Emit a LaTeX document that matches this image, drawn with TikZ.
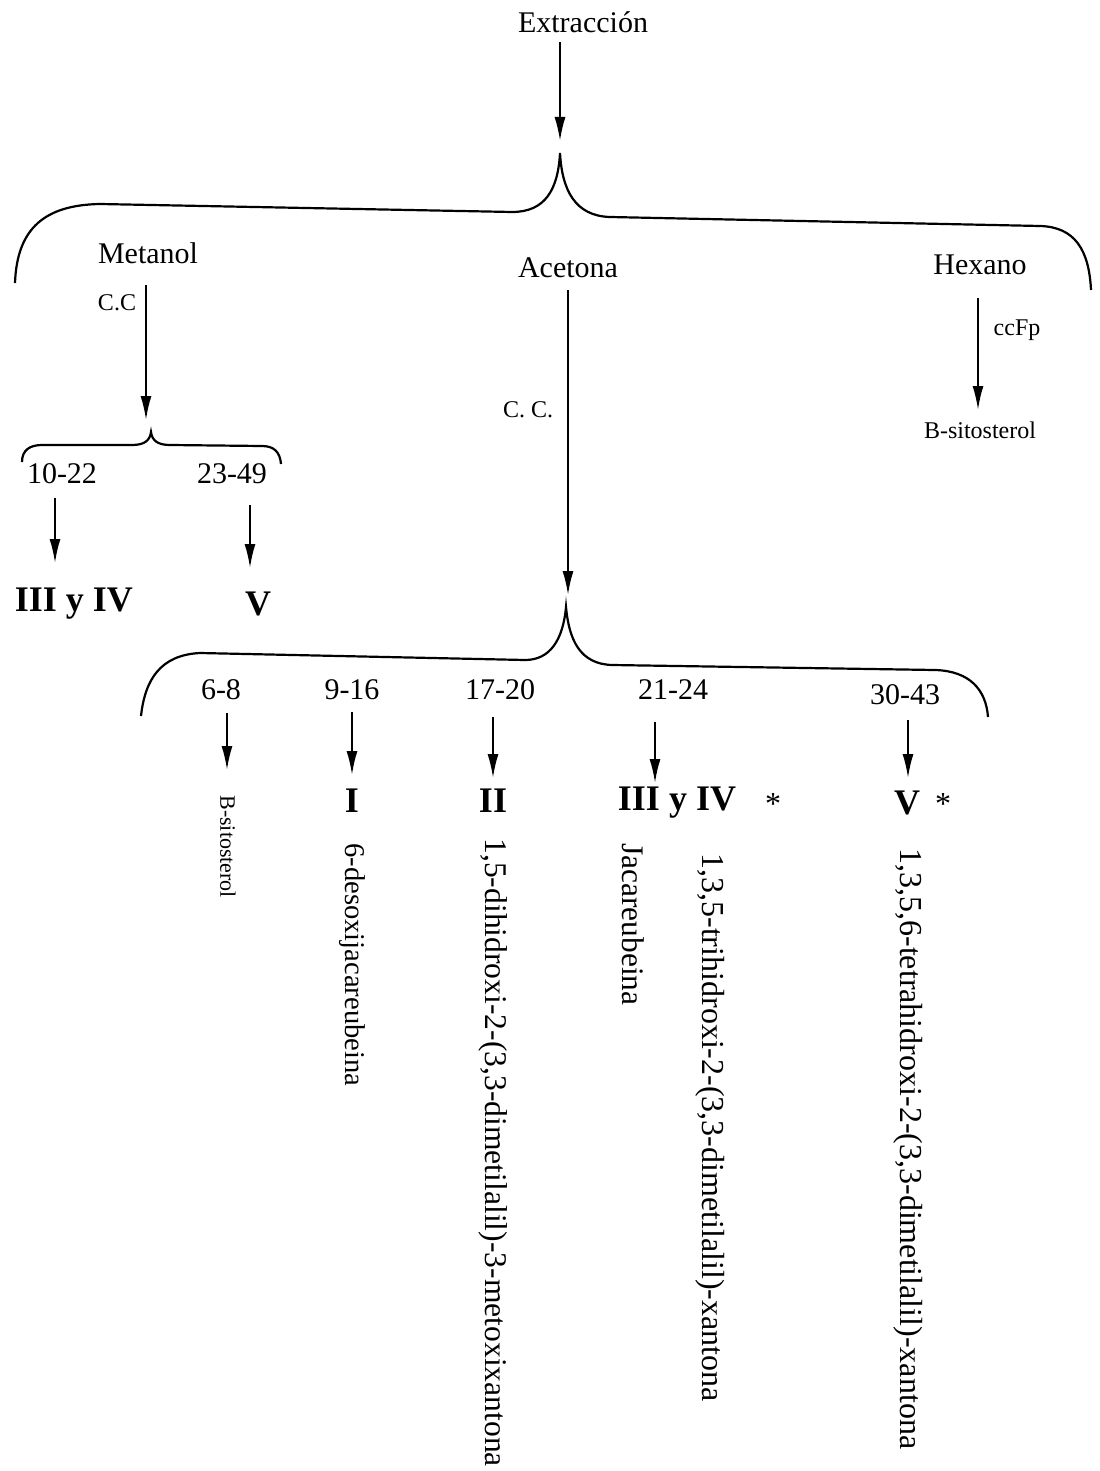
\documentclass[tikz,border=0pt]{standalone}
\usepackage{fontspec}
\setmainfont{Liberation Serif}
\usetikzlibrary{calc,arrows.meta}
\begin{document}
\begin{tikzpicture}[x=0.5pt,y=-0.5pt,
 std/.style={font=\fontsize{15}{18}\selectfont, inner sep=0pt},
 bld/.style={font=\fontsize{18}{21}\selectfont\bfseries, inner sep=0pt},
 sml/.style={font=\fontsize{12}{14}\selectfont, inner sep=0pt},
 star/.style={font=\fontsize{16}{18}\selectfont, inner sep=0pt},
 tny/.style={font=\fontsize{11}{13}\selectfont, inner sep=0pt, rotate=-90, anchor=west},
 rot/.style={inner sep=0pt, rotate=-90, anchor=west},
 arr/.style={line width=1pt, -{Latex[length=12pt,width=5.5pt]}},
 brc/.style={line width=1.1pt}]
\useasboundingbox (0,0) rectangle (1099,1471);
% coordinates of brace tips
\coordinate (cusp1) at (560,153);
\coordinate (cusp2) at (151,432);
\coordinate (cusp3) at (566,607);
% top
\node[std] (extr) at (583,22) {Extracción};
\node[std] (met) at (148,253) {Metanol};
\node[std] (ace) at (568,268) {Acetona};
\node[std] (hex) at (980,265) {Hexano};
\node[sml] (cc1) at (117,303) {C.C};
\node[sml] (cc2) at (528,410) {C. C.};
\node[sml] (ccfp) at (1017,330) {ccFp};
\node[sml] (bs1) at (980,430) {B-sitosterol};
% metanol branch
\node[std] (f1022) at (62,474) {10-22};
\node[std] (f2349) at (232,474) {23-49};
\node[bld] (r1) at (74,604) {III y IV};
\node[bld] (r2) at (258,604) {V};
% acetona branch
\node[std] (f68) at (221,690) {6-8};
\node[std] (f916) at (352,690) {9-16};
\node[std] (f1720) at (500,690) {17-20};
\node[std] (f2124) at (673,690) {21-24};
\node[std] (f3043) at (905,695) {30-43};
\node[tny] (bs2) at (228,795) {B-sitosterol};
\node[bld] (rI) at (352,801) {I};
\node[bld] (rII) at (493,801) {II};
\node[bld] (rIII) at (677,803) {III y IV};
\node[star] (st1) at (773,804) {*};
\node[bld] (rV) at (907,803) {V};
\node[star] (st2) at (943,804) {*};
\node[rot, font=\fontsize{14.3}{18}\selectfont] (n1) at (352,843) {6-desoxijacareubeina};
\node[rot, font=\fontsize{15.8}{18}\selectfont] (n2) at (493,838) {1,5-dihidroxi-2-(3,3-dimetilalil)-3-metoxixantona};
\node[rot, font=\fontsize{15.7}{18}\selectfont] (n3) at (633,843) {Jacareubeina};
\node[rot, font=\fontsize{16}{18}\selectfont] (n4) at (710,853) {1,3,5-trihidroxi-2-(3,3-dimetilalil)-xantona};
\node[rot, font=\fontsize{16}{18}\selectfont] (n5) at (908,848) {1,3,5,6-tetrahidroxi-2-(3,3-dimetilalil)-xantona};
% braces
\draw[brc] (15,283) .. controls (17,228) and (45,205) .. (100,204) -- (512,212)
  .. controls (545,212) and (558,190) .. (cusp1)
  .. controls (562,190) and (575,216) .. (610,217) -- (1040,226)
  .. controls (1075,227) and (1089,250) .. (1091,290);
\draw[brc] (22,462) .. controls (22,450) and (30,445) .. (42,445) -- (132,445)
  .. controls (145,445) and (150,440) .. (cusp2)
  .. controls (152,440) and (157,445) .. (170,445) -- (262,446)
  .. controls (274,446) and (280,452) .. (281,464);
\draw[brc] (141,716) .. controls (145,680) and (160,655) .. (200,653) -- (525,660)
  .. controls (550,660) and (563,640) .. (cusp3)
  .. controls (569,640) and (580,664) .. (612,665) -- (935,670)
  .. controls (970,671) and (986,690) .. (988,717);
% arrows
\draw[arr] ($(cusp1)+(0,-111)$) -- ($(cusp1)+(0,-12)$);
\draw[arr] ($(met)+(-2,32)$) -- ($(cusp2)+(-5,-12)$);
\draw[arr] ($(ace)+(0,22)$) -- ($(cusp3)+(2,-12)$);
\draw[arr] ($(hex)+(-2,33)$) -- ($(bs1)+(-2,-20)$);
\draw[arr] ($(f1022)+(-7,24)$) -- ($(r1)+(-19,-41)$);
\draw[arr] ($(f2349)+(18,31)$) -- ($(r2)+(-8,-36)$);
\draw[arr] ($(f68)+(6,23)$) -- ($(bs2.west)+(-1,-25)$);
\draw[arr] ($(f916)+(0,22)$) -- ($(rI)+(0,-26)$);
\draw[arr] ($(f1720)+(-7,27)$) -- ($(rII)+(0,-23)$);
\draw[arr] ($(f2124)+(-18,32)$) -- ($(rIII)+(-22,-20)$);
\draw[arr] ($(f3043)+(3,25)$) -- ($(rV)+(1,-25)$);
\end{tikzpicture}
\end{document}
